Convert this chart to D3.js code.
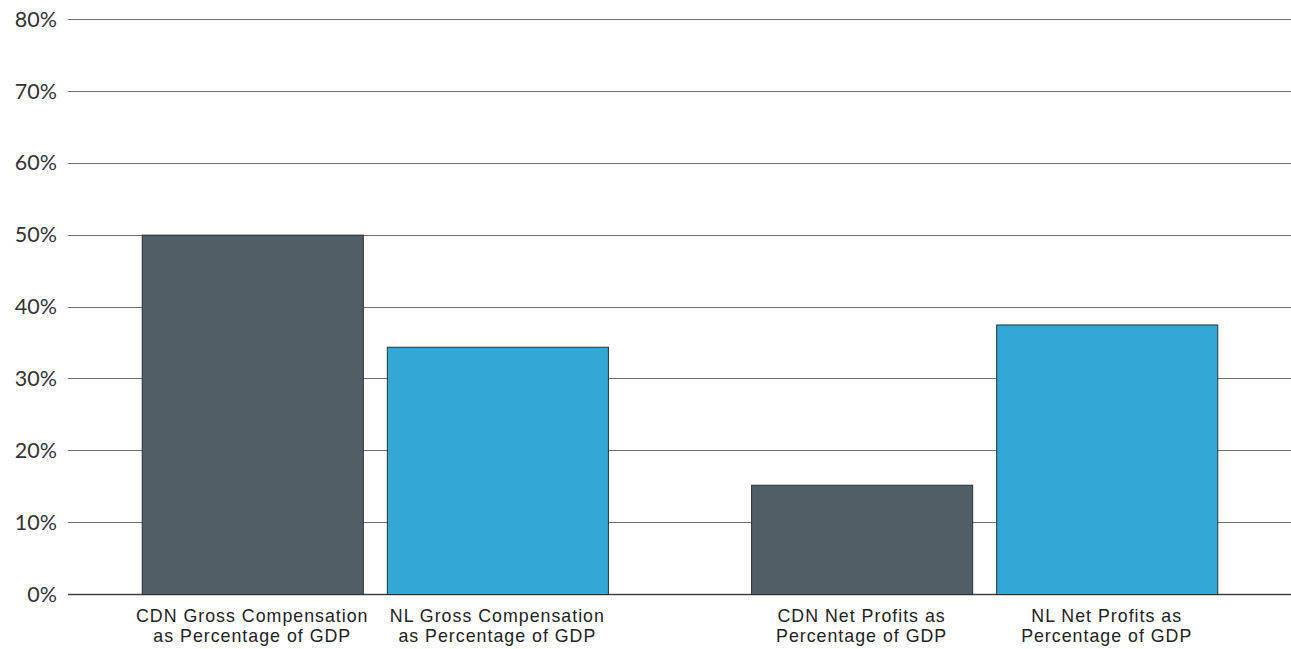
<!DOCTYPE html>
<html>
<head>
<meta charset="utf-8">
<script src="https://cdn.jsdelivr.net/npm/d3@7"></script>
<style>
  html, body { margin: 0; padding: 0; background: #fff; }
  svg { display: block; }
</style>
</head>
<body>
<svg id="chart" width="1291" height="649"></svg>
<script>
// Measures, countries and their shares of GDP (%)
const groups = ["Gross Compensation", "Net Profits"];
const series = ["CDN", "NL"];
const cdnValues = [50.0, 15.2];
const nlValues = [34.4, 37.5];
const categoryLabels = [
  ["CDN Gross Compensation", "as Percentage of GDP"],
  ["NL Gross Compensation", "as Percentage of GDP"],
  ["CDN Net Profits as", "Percentage of GDP"],
  ["NL Net Profits as", "Percentage of GDP"]
];
const yTicks = [0, 10, 20, 30, 40, 50, 60, 70, 80];
const colors = { CDN: "#525e66", NL: "#33a7d6" };

const rows = [];
groups.forEach((g, gi) => {
  rows.push({ group: g, series: "CDN", value: cdnValues[gi], label: categoryLabels[gi * 2] });
  rows.push({ group: g, series: "NL", value: nlValues[gi], label: categoryLabels[gi * 2 + 1] });
});

const svg = d3.select("#chart");
const margin = { left: 68, right: 0, top: 19, bottom: 55 };
const W = 1291, H = 649;

const y = d3.scaleLinear().domain([0, 80]).range([H - margin.bottom, margin.top]);
const x0 = d3.scaleBand().domain(groups).range([margin.left, W - margin.right])
  .paddingInner(0.235).paddingOuter(0.121);
const x1 = d3.scaleBand().domain(series).range([0, x0.bandwidth()]).paddingInner(0.098);

// Horizontal gridlines with percentage labels
const grid = svg.append("g");
grid.selectAll("line").data(yTicks).join("line")
  .attr("x1", margin.left).attr("x2", W)
  .attr("y1", d => Math.round(y(d)) + 0.5).attr("y2", d => Math.round(y(d)) + 0.5)
  .attr("stroke", d => d === 0 ? "#444" : "#6e6e6e")
  .attr("stroke-width", d => d === 0 ? 1.5 : 1);

grid.selectAll("text").data(yTicks).join("text")
  .attr("x", 57).attr("y", d => y(d))
  .attr("dy", "0.36em")
  .attr("text-anchor", "end")
  .attr("font-family", "Lato, 'Open Sans', sans-serif")
  .attr("font-size", 21.5)
  .attr("fill", "#333")
  .text(d => d + "%");

// Bars
svg.append("g").selectAll("rect").data(rows).join("rect")
  .attr("x", d => x0(d.group) + x1(d.series) + 0.5)
  .attr("y", d => y(d.value) + 0.5)
  .attr("width", x1.bandwidth())
  .attr("height", d => y(0) - y(d.value))
  .attr("fill", d => colors[d.series])
  .attr("stroke", "#2a2f33")
  .attr("stroke-width", 1);

// Two-line category labels under each bar
const labelLines = rows.flatMap(d => d.label.map((t, i) => ({
  text: t, line: i, cx: x0(d.group) + x1(d.series) + x1.bandwidth() / 2
})));
svg.append("g").selectAll("text").data(labelLines).join("text")
  .attr("x", d => d.cx)
  .attr("y", d => 622 + d.line * 20)
  .attr("text-anchor", "middle")
  .attr("font-family", "'Liberation Sans', Arial, sans-serif")
  .attr("font-size", 17.8)
  .attr("letter-spacing", 1.0)
  .attr("fill", "#222")
  .text(d => d.text);
</script>
</body>
</html>
